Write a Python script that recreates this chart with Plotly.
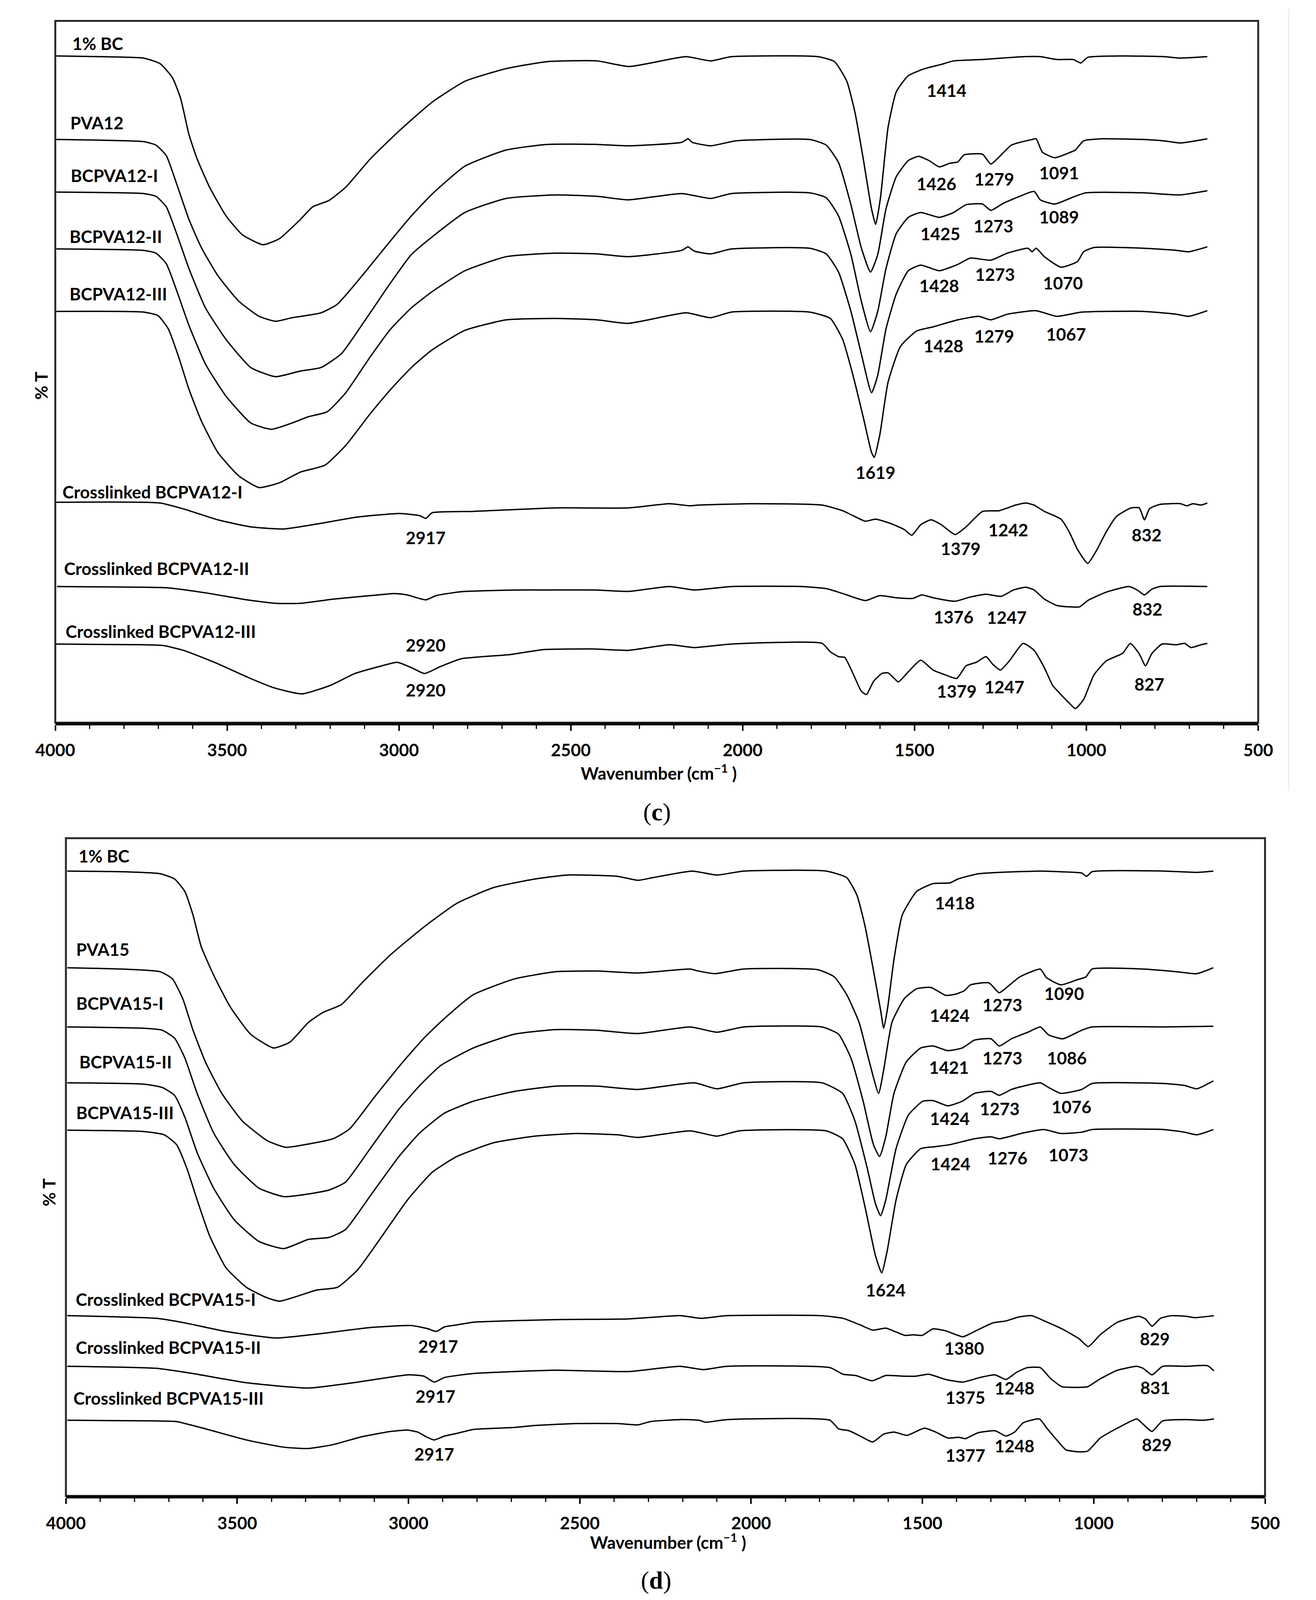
import plotly.graph_objects as go

# ---- panel (c): FTIR spectra, pairs of (wavenumber cm-1, %T offset) ----
C_BC = [(3997, 95.0), (3863, 94.9), (3743, 94.7), (3695, 93.9), (3659, 91.9), (3635, 88.9), (3611, 83.8),
        (3587, 80.3), (3551, 76.3), (3503, 72.2), (3455, 69.5), (3395, 68.1), (3347, 69.0), (3287, 71.7),
        (3251, 73.5), (3204, 74.4), (3155, 76.3), (3084, 80.3), (3000, 84.3), (2904, 88.4), (2808, 91.4),
        (2688, 93.2), (2568, 94.2), (2424, 94.3), (2330, 93.5), (2165, 94.9), (2093, 94.3), (2033, 94.9),
        (1781, 94.9), (1733, 94.2), (1697, 91.4), (1673, 86.9), (1649, 80.3), (1625, 73.2), (1613, 71.0),
        (1599, 74.8), (1577, 84.8), (1553, 89.9), (1518, 92.2), (1470, 93.2), (1422, 93.8), (1386, 94.3),
        (1302, 94.5), (1182, 94.9), (1134, 94.9), (1086, 94.5), (1038, 94.5), (1016, 94.0), (996, 94.8),
        (894, 95.0), (774, 94.9), (726, 94.7), (648, 94.9)]
C_PVA = [(3997, 83.1), (3863, 83.0), (3743, 82.8), (3707, 82.3), (3677, 80.8), (3647, 76.8), (3611, 71.7),
         (3575, 67.7), (3527, 63.7), (3467, 60.1), (3407, 57.9), (3359, 57.2), (3311, 57.7), (3227, 58.4),
         (3180, 59.6), (3107, 63.7), (3024, 68.7), (2964, 72.2), (2904, 75.3), (2808, 79.3), (2688, 81.6),
         (2568, 82.4), (2424, 82.4), (2333, 82.2), (2177, 82.7), (2159, 83.2), (2147, 82.7), (2093, 82.2),
         (2021, 82.9), (1805, 83.1), (1757, 82.3), (1721, 79.8), (1685, 73.8), (1655, 67.7), (1628, 64.2),
         (1607, 66.7), (1583, 73.2), (1553, 77.8), (1518, 80.1), (1488, 80.7), (1458, 80.1), (1428, 79.2),
         (1398, 79.7), (1374, 79.9), (1356, 80.9), (1302, 81.0), (1278, 79.6), (1254, 80.6), (1218, 82.3),
         (1158, 83.1), (1146, 83.2), (1128, 81.3), (1092, 80.5), (1050, 81.2), (1032, 81.6), (1008, 82.9),
         (954, 83.2), (834, 83.1), (774, 82.9), (726, 82.6), (648, 83.2)]
C_BCPVA_I = [(3997, 75.6), (3743, 75.4), (3707, 75.0), (3677, 73.5), (3647, 69.7), (3611, 64.7), (3563, 59.1),
             (3503, 54.6), (3431, 50.6), (3359, 49.3), (3287, 50.1), (3227, 50.6), (3167, 52.6), (3095, 57.6),
             (3024, 62.7), (2964, 66.7), (2904, 69.2), (2808, 72.7), (2688, 74.7), (2544, 75.2), (2424, 75.0),
             (2333, 74.5), (2177, 75.4), (2093, 74.7), (2033, 75.4), (1805, 75.5), (1757, 74.8), (1721, 72.2),
             (1685, 66.7), (1655, 60.1), (1628, 55.7), (1607, 58.6), (1583, 64.7), (1553, 69.7), (1518, 72.0),
             (1482, 72.7), (1428, 72.0), (1386, 72.7), (1350, 73.8), (1302, 73.9), (1278, 73.0), (1242, 74.0),
             (1194, 75.0), (1152, 75.7), (1134, 74.5), (1092, 73.9), (1038, 74.9), (1002, 75.5), (834, 75.5),
             (774, 75.3), (726, 75.2), (648, 75.8)]
C_BCPVA_II = [(3997, 67.5), (3743, 67.3), (3707, 66.9), (3677, 65.4), (3647, 61.6), (3611, 56.6), (3563, 51.1),
              (3503, 46.5), (3431, 42.7), (3371, 41.8), (3311, 42.7), (3263, 43.6), (3209, 44.3), (3155, 47.0),
              (3084, 52.1), (3024, 56.1), (2964, 59.1), (2904, 61.4), (2808, 64.4), (2688, 66.4), (2544, 66.9),
              (2424, 66.8), (2333, 66.4), (2177, 67.3), (2159, 67.8), (2141, 67.2), (2093, 66.8), (2033, 67.5),
              (1805, 67.6), (1757, 66.8), (1721, 64.2), (1685, 58.6), (1655, 52.6), (1625, 47.0), (1607, 49.5),
              (1583, 56.1), (1553, 61.1), (1518, 64.4), (1482, 65.2), (1428, 64.4), (1374, 65.3), (1338, 66.2),
              (1278, 65.9), (1230, 66.9), (1170, 67.6), (1158, 67.1), (1146, 67.6), (1122, 66.4), (1074, 64.9),
              (1026, 65.7), (1008, 67.1), (978, 67.7), (834, 67.6), (738, 67.3), (702, 67.1), (648, 67.8)]
C_BCPVA_III = [(3997, 58.6), (3743, 58.5), (3701, 58.0), (3671, 56.1), (3641, 52.1), (3611, 47.5), (3575, 43.0),
               (3527, 38.5), (3467, 35.2), (3407, 33.5), (3347, 34.2), (3287, 35.7), (3215, 36.7), (3155, 39.5),
               (3084, 44.0), (3024, 47.5), (2964, 50.6), (2904, 53.1), (2808, 55.9), (2688, 57.4), (2544, 57.6),
               (2424, 57.4), (2333, 56.9), (2165, 58.4), (2093, 57.7), (2033, 58.5), (1805, 58.5), (1745, 57.6),
               (1709, 54.6), (1679, 49.5), (1649, 43.5), (1625, 38.5), (1617, 37.8), (1601, 41.0), (1577, 48.5),
               (1541, 53.6), (1494, 55.8), (1446, 56.4), (1374, 57.4), (1314, 57.9), (1278, 57.4), (1230, 58.2),
               (1146, 58.7), (1086, 57.9), (1014, 58.5), (834, 58.6), (738, 58.2), (702, 57.9), (648, 58.7)]
C_XL_I = [(3997, 31.4), (3695, 31.3), (3623, 30.4), (3527, 28.9), (3431, 27.9), (3335, 27.6), (3239, 28.3),
          (3120, 29.3), (3000, 29.8), (2940, 29.5), (2922, 29.1), (2904, 29.9), (2784, 30.1), (2544, 30.6),
          (2333, 30.6), (2213, 31.2), (2153, 30.9), (2129, 31.0), (1973, 31.2), (1769, 31.0), (1709, 30.2),
          (1679, 29.5), (1643, 28.7), (1613, 29.0), (1565, 28.3), (1529, 27.5), (1508, 26.7), (1482, 28.2),
          (1452, 28.9), (1422, 28.2), (1382, 26.8), (1350, 27.9), (1302, 30.1), (1254, 30.2), (1206, 31.0),
          (1176, 31.3), (1152, 31.0), (1122, 30.1), (1074, 29.0), (1050, 27.2), (1026, 24.7), (996, 22.7),
          (972, 24.4), (942, 27.2), (912, 29.4), (870, 30.6), (846, 30.6), (831, 28.9), (816, 30.5),
          (786, 31.1), (726, 31.2), (708, 30.9), (690, 31.2), (666, 31.0), (648, 31.3)]
C_XL_II = [(3995, 19.4), (3755, 19.3), (3671, 19.2), (3563, 18.5), (3443, 17.5), (3359, 17.0), (3287, 17.0),
           (3191, 17.6), (3084, 18.1), (3012, 18.4), (2976, 18.2), (2922, 17.5), (2892, 18.1), (2844, 18.5),
           (2808, 18.7), (2664, 18.9), (2568, 18.9), (2424, 18.9), (2333, 18.7), (2213, 19.4), (2141, 18.9),
           (2033, 19.4), (1829, 19.4), (1757, 19.1), (1709, 18.4), (1643, 17.4), (1601, 18.1), (1553, 17.8),
           (1505, 17.7), (1479, 18.2), (1446, 17.8), (1382, 17.3), (1338, 17.9), (1292, 18.3), (1248, 18.0),
           (1212, 18.9), (1176, 19.3), (1152, 18.9), (1122, 17.6), (1086, 16.7), (1050, 16.5), (1020, 16.5),
           (996, 17.4), (942, 18.6), (876, 19.4), (852, 18.9), (831, 18.2), (810, 19.0), (786, 19.4), (648, 19.4)]
C_XL_III = [(3998, 11.2), (3746, 11.1), (3687, 11.0), (3627, 10.3), (3532, 8.5), (3437, 6.4), (3366, 5.0),
            (3283, 4.1), (3200, 5.3), (3128, 7.0), (3057, 8.0), (3005, 8.6), (2962, 7.8), (2926, 7.0),
            (2879, 8.0), (2819, 9.1), (2677, 9.7), (2582, 10.4), (2439, 10.5), (2333, 10.3), (2213, 11.1),
            (2141, 10.7), (2033, 11.2), (1769, 11.3), (1745, 10.1), (1721, 9.4), (1703, 9.3), (1679, 7.0),
            (1655, 4.5), (1640, 4.0), (1619, 5.9), (1595, 7.0), (1577, 7.1), (1559, 6.3), (1547, 5.8),
            (1517, 7.3), (1482, 8.9), (1446, 7.5), (1410, 6.8), (1377, 6.3), (1350, 8.1), (1320, 8.6),
            (1292, 9.4), (1272, 8.3), (1250, 7.5), (1224, 8.8), (1184, 11.3), (1152, 10.3), (1122, 7.8),
            (1098, 5.3), (1074, 4.0), (1050, 2.8), (1032, 2.0), (1008, 3.3), (978, 6.8), (942, 8.8),
            (894, 9.9), (872, 11.3), (846, 9.8), (828, 8.1), (810, 9.8), (780, 11.2), (738, 11.1),
            (714, 11.3), (696, 10.7), (666, 11.1), (648, 11.3)]

C_SERIES = [C_BC, C_PVA, C_BCPVA_I, C_BCPVA_II, C_BCPVA_III, C_XL_I, C_XL_II, C_XL_III]
C_NAMES = ["1% BC", "PVA12", "BCPVA12-I", "BCPVA12-II", "BCPVA12-III",
           "Crosslinked BCPVA12-I", "Crosslinked BCPVA12-II", "Crosslinked BCPVA12-III"]
C_NAME_AT = [(3953, 96.8), (3959, 85.5), (3957, 78.0), (3961, 69.3), (3961, 61.1),
             (3981, 32.9), (3977, 22.0), (3972, 13.0)]
C_PEAKS = [("1414", 1407, 90.1), ("1426", 1436, 76.8), ("1279", 1268, 77.5), ("1091", 1080, 78.4),
           ("1425", 1425, 69.7), ("1273", 1270, 70.8), ("1089", 1080, 72.1),
           ("1428", 1428, 62.3), ("1273", 1266, 63.9), ("1070", 1068, 62.7),
           ("1428", 1416, 53.7), ("1279", 1268, 55.1), ("1067", 1059, 55.4), ("1619", 1613, 35.7),
           ("2917", 2922, 26.4), ("1379", 1366, 24.8), ("1242", 1227, 27.5), ("832", 824, 26.8),
           ("1376", 1386, 15.1), ("1247", 1232, 15.0), ("832", 822, 16.2),
           ("2920", 2922, 11.1), ("2920", 2922, 4.7), ("1379", 1377, 4.5), ("1247", 1239, 5.1), ("827", 816, 5.5)]

# ---- panel (d) ----
D_BC = [(3996, 95.0), (3834, 94.9), (3725, 94.6), (3683, 93.8), (3653, 91.9), (3629, 88.3), (3605, 83.5),
        (3569, 79.2), (3521, 74.4), (3461, 70.2), (3394, 68.1), (3346, 69.0), (3292, 72.0), (3250, 73.5),
        (3196, 74.7), (3136, 78.0), (3052, 82.3), (2955, 86.5), (2859, 90.1), (2751, 92.5), (2631, 93.8),
        (2534, 94.4), (2390, 94.2), (2330, 93.6), (2287, 94.0), (2172, 95.0), (2100, 94.4), (2022, 95.0),
        (1781, 95.0), (1721, 94.0), (1691, 91.3), (1667, 86.5), (1643, 79.9), (1622, 73.8), (1613, 71.1),
        (1601, 74.4), (1583, 81.6), (1559, 88.3), (1517, 91.9), (1469, 93.1), (1420, 93.2), (1396, 93.8),
        (1336, 94.6), (1156, 95.0), (1096, 94.9), (1035, 94.7), (1021, 94.2), (1005, 94.9), (795, 95.0),
        (699, 94.8), (651, 95.0)]
D_PVA = [(3996, 80.3), (3834, 80.1), (3725, 79.7), (3689, 78.6), (3659, 75.6), (3629, 70.8), (3593, 66.0),
         (3545, 61.2), (3485, 57.0), (3412, 54.0), (3358, 53.0), (3292, 53.5), (3220, 54.3), (3172, 55.8),
         (3100, 60.6), (3016, 66.0), (2955, 69.6), (2895, 72.6), (2811, 76.2), (2691, 78.6), (2570, 79.7),
         (2450, 79.8), (2330, 79.5), (2178, 80.1), (2154, 79.8), (2106, 79.4), (2022, 80.1), (1805, 80.0),
         (1757, 78.9), (1721, 76.2), (1685, 72.0), (1655, 66.0), (1628, 61.2), (1613, 64.8), (1589, 72.0),
         (1553, 75.6), (1517, 77.1), (1475, 77.3), (1432, 76.1), (1402, 76.3), (1378, 76.8), (1360, 77.7),
         (1306, 78.0), (1276, 76.5), (1252, 77.4), (1216, 78.9), (1156, 80.1), (1138, 78.8), (1096, 77.7),
         (1047, 78.5), (1023, 78.9), (1005, 80.1), (855, 80.1), (759, 79.7), (699, 79.4), (651, 80.3)]
D_BCPVA_I = [(3996, 71.3), (3773, 71.1), (3719, 70.8), (3683, 69.6), (3653, 66.6), (3617, 61.2), (3569, 55.2),
             (3509, 50.4), (3437, 46.8), (3364, 45.5), (3292, 45.9), (3232, 46.5), (3184, 47.7), (3112, 52.8),
             (3028, 58.8), (2967, 62.4), (2907, 65.4), (2811, 68.1), (2691, 70.2), (2570, 70.9), (2450, 70.8),
             (2330, 70.3), (2178, 71.3), (2100, 70.5), (2022, 71.3), (1793, 71.3), (1745, 70.2), (1709, 66.6),
             (1673, 60.0), (1643, 53.4), (1625, 51.6), (1607, 54.6), (1583, 61.2), (1547, 66.0), (1505, 68.1),
             (1469, 68.4), (1426, 67.7), (1384, 68.1), (1348, 69.3), (1300, 69.5), (1276, 68.4), (1240, 69.5),
             (1192, 70.5), (1156, 71.3), (1132, 70.1), (1090, 69.5), (1035, 70.8), (1005, 71.3), (795, 71.3),
             (651, 71.4)]
D_BCPVA_II = [(3996, 62.8), (3773, 62.6), (3719, 62.1), (3683, 60.9), (3653, 57.6), (3617, 52.2), (3569, 46.8),
              (3509, 42.0), (3437, 38.7), (3364, 37.6), (3292, 39.0), (3232, 39.3), (3184, 40.5), (3112, 45.6),
              (3028, 51.6), (2967, 55.2), (2895, 58.2), (2811, 60.0), (2691, 61.5), (2570, 62.3), (2450, 62.3),
              (2330, 61.8), (2166, 62.8), (2100, 61.9), (2022, 62.8), (1793, 62.8), (1733, 61.2), (1697, 57.0),
              (1661, 49.8), (1637, 44.4), (1622, 42.6), (1607, 45.0), (1577, 52.8), (1541, 57.9), (1499, 60.0),
              (1469, 60.1), (1426, 59.3), (1384, 60.0), (1348, 61.2), (1300, 61.5), (1276, 60.9), (1240, 61.8),
              (1156, 62.8), (1132, 62.1), (1096, 61.2), (1035, 61.8), (1005, 62.7), (795, 62.7), (735, 62.4),
              (699, 61.9), (651, 63.1)]
D_BCPVA_III = [(3996, 55.6), (3773, 55.4), (3713, 54.9), (3677, 53.4), (3647, 49.8), (3617, 45.0), (3581, 39.6),
               (3533, 34.7), (3473, 31.7), (3412, 30.1), (3376, 29.6), (3316, 30.5), (3268, 31.3), (3208, 31.7),
               (3148, 34.4), (3076, 39.6), (3003, 45.0), (2931, 49.2), (2859, 51.6), (2751, 53.7), (2631, 54.7),
               (2510, 55.1), (2390, 54.9), (2330, 54.5), (2178, 55.5), (2100, 54.7), (2034, 55.5), (1781, 55.5),
               (1733, 54.3), (1697, 50.4), (1667, 43.8), (1637, 36.5), (1619, 33.9), (1603, 37.2), (1577, 45.0),
               (1547, 50.4), (1505, 52.8), (1463, 53.1), (1420, 53.4), (1348, 54.3), (1300, 54.6), (1276, 54.3),
               (1204, 55.2), (1144, 55.7), (1096, 55.1), (1035, 55.3), (1005, 55.7), (795, 55.7), (735, 55.3),
               (699, 54.9), (651, 55.7)]
D_XL_I = [(3996, 27.4), (3737, 27.0), (3653, 26.3), (3533, 25.0), (3388, 24.0), (3268, 24.6), (3112, 25.6),
          (2991, 25.9), (2943, 25.4), (2919, 25.0), (2895, 25.7), (2859, 26.0), (2811, 26.4), (2570, 26.8),
          (2359, 26.9), (2208, 27.4), (2146, 27.0), (2071, 27.4), (1795, 27.4), (1732, 27.0), (1682, 26.0),
          (1645, 25.2), (1607, 25.5), (1576, 24.9), (1551, 24.4), (1526, 24.5), (1501, 24.4), (1469, 25.4),
          (1432, 25.1), (1382, 24.2), (1344, 25.1), (1294, 26.3), (1256, 26.6), (1219, 27.2), (1181, 27.4),
          (1144, 26.6), (1093, 25.4), (1043, 23.9), (1016, 22.7), (981, 24.5), (931, 26.4), (868, 27.3),
          (849, 26.9), (830, 25.8), (805, 27.0), (774, 27.4), (730, 27.3), (705, 27.1), (649, 27.4)]
D_XL_II = [(3996, 19.7), (3737, 19.4), (3629, 18.6), (3473, 17.2), (3292, 16.4), (3148, 17.3), (3003, 18.4),
           (2955, 18.2), (2925, 17.3), (2895, 18.0), (2811, 18.6), (2570, 19.1), (2359, 18.9), (2208, 19.7),
           (2139, 19.2), (2071, 19.7), (1770, 19.5), (1732, 18.5), (1695, 18.3), (1647, 17.5), (1607, 18.3),
           (1557, 18.2), (1519, 18.2), (1482, 18.5), (1432, 17.7), (1382, 17.3), (1332, 18.0), (1288, 18.4),
           (1256, 17.7), (1225, 18.8), (1194, 19.5), (1156, 19.5), (1125, 17.8), (1093, 16.6), (1056, 16.5),
           (1018, 16.6), (981, 17.8), (931, 19.1), (874, 19.7), (856, 19.4), (830, 18.4), (799, 19.7),
           (730, 19.7), (668, 19.8), (649, 19.0)]
D_XL_III = [(3996, 11.5), (3737, 11.4), (3677, 11.3), (3593, 10.2), (3473, 8.5), (3364, 7.4), (3292, 7.2),
            (3220, 7.8), (3136, 9.0), (3052, 9.8), (3003, 10.0), (2973, 9.7), (2949, 9.0), (2925, 8.5),
            (2895, 9.1), (2859, 9.5), (2811, 10.1), (2691, 10.4), (2631, 10.7), (2510, 11.0), (2390, 11.0),
            (2330, 10.8), (2294, 11.3), (2208, 11.6), (2152, 11.5), (2133, 11.2), (2071, 11.6), (1770, 11.5),
            (1745, 10.2), (1714, 9.9), (1682, 9.1), (1645, 8.2), (1613, 9.4), (1582, 9.7), (1545, 9.2),
            (1494, 10.3), (1457, 9.6), (1426, 8.8), (1394, 8.9), (1375, 8.7), (1338, 9.6), (1288, 9.9),
            (1256, 9.1), (1231, 9.7), (1206, 11.1), (1159, 11.7), (1137, 10.3), (1106, 8.4), (1081, 7.0),
            (1043, 6.7), (1018, 6.8), (981, 8.8), (931, 10.3), (874, 11.7), (856, 10.9), (830, 9.8),
            (799, 11.4), (730, 11.6), (680, 11.5), (649, 11.7)]

D_SERIES = [D_BC, D_PVA, D_BCPVA_I, D_BCPVA_II, D_BCPVA_III, D_XL_I, D_XL_II, D_XL_III]
D_NAMES = ["1% BC", "PVA15", "BCPVA15-I", "BCPVA15-II", "BCPVA15-III",
           "Crosslinked BCPVA15-I", "Crosslinked BCPVA15-II", "Crosslinked BCPVA15-III"]
D_NAME_AT = [(3966, 97.3), (3972, 83.1), (3972, 74.9), (3963, 66.0), (3972, 58.3),
             (3974, 29.9), (3974, 22.6), (3980, 14.9)]
D_PEAKS = [("1418", 1406, 90.2), ("1424", 1420, 73.1), ("1273", 1266, 74.7), ("1090", 1086, 76.4),
           ("1421", 1423, 65.2), ("1273", 1266, 66.6), ("1086", 1078, 66.6),
           ("1424", 1420, 57.4), ("1273", 1274, 58.9), ("1076", 1065, 59.2),
           ("1424", 1418, 50.5), ("1276", 1252, 51.4), ("1073", 1074, 51.9), ("1624", 1607, 31.3),
           ("2917", 2913, 22.8), ("1380", 1378, 22.5), ("829", 822, 23.9),
           ("2917", 2922, 15.2), ("1375", 1375, 15.0), ("1248", 1231, 16.4), ("831", 820, 16.5),
           ("2917", 2925, 6.4), ("1377", 1375, 6.2), ("1248", 1231, 7.6), ("829", 816, 7.8)]

FONT = "Lato"
SIZE = 44
# reference page size; every placement below is a fraction of it, so the
# figure can fill whatever viewport the page is shown in
W, H = 3370, 4902

fig = go.Figure()

# spectra
for series_list, xa, ya in [(C_SERIES, "x", "y"), (D_SERIES, "x2", "y2")]:
    for series in series_list:
        wn, t = zip(*series)
        fig.add_trace(go.Scatter(
            x=wn, y=t, mode="lines", xaxis=xa, yaxis=ya,
            line=dict(color="black", width=3.5, shape="spline", smoothing=0.5),
            showlegend=False, hoverinfo="skip"))

annotations = []


def label(text, x, y, xref, yref, anchor="center", size=SIZE, angle=0, family=FONT):
    annotations.append(dict(
        text=text, x=x, y=y, xref=xref, yref=yref, showarrow=False,
        xanchor=anchor, yanchor="middle", textangle=angle,
        font=dict(family=family, size=size, color="black")))


for names, spots, peaks, xr, yr in [(C_NAMES, C_NAME_AT, C_PEAKS, "x", "y"),
                                     (D_NAMES, D_NAME_AT, D_PEAKS, "x2", "y2")]:
    for name, (wx, ty) in zip(names, spots):
        label(f"<b>{name}</b>", wx, ty, xr, yr, anchor="left")
    for txt, wx, ty in peaks:
        label(f"<b>{txt}</b>", wx, ty, xr, yr)

# axis titles, y label and panel captions (paper coords)
label("<b>Wavenumber (cm<sup>−1</sup> )</b>", 1680 / W, 1 - 2365 / H, "paper", "paper")
label("<b>Wavenumber (cm<sup>−1</sup> )</b>", 1705 / W, 1 - 4722 / H, "paper", "paper")
label("<b>% T</b>", 55 / W, 1 - 1182 / H, "paper", "paper", angle=-90)
label("<b>% T</b>", 76 / W, 1 - 3653 / H, "paper", "paper", angle=-90)
label("(<b>c</b>)", 1676 / W, 1 - 2488 / H, "paper", "paper", size=64, family="Liberation Serif")
label("(<b>d</b>)", 1673 / W, 1 - 4842 / H, "paper", "paper", size=64, family="Liberation Serif")


def x_axis(domain, anchor):
    return dict(
        domain=domain, anchor=anchor, range=[4000, 500], tickmode="linear", tick0=0, dtick=500,
        ticks="outside", ticklen=14, tickwidth=3.5, tickcolor="black",
        showline=True, linewidth=7, linecolor="black", showgrid=False, zeroline=False,
        tickfont=dict(family=FONT, size=SIZE, color="black", weight="bold"), ticklabelstandoff=12,
        minor=dict(dtick=100, tick0=0, ticks="outside", ticklen=9, tickwidth=3, tickcolor="black",
                   showgrid=False),
        fixedrange=True)


def y_axis(domain, anchor):
    return dict(domain=domain, anchor=anchor, range=[0, 100], visible=False, fixedrange=True)


C_DOM_X = [93 / W, 3257 / W]
C_DOM_Y = [1 - 2214 / H, 1 - 64 / H]
D_DOM_X = [121 / W, 3275 / W]
D_DOM_Y = [1 - 4583 / H, 1 - 2568 / H]

shapes = [
    dict(type="rect", xref="paper", yref="paper", x0=C_DOM_X[0], x1=C_DOM_X[1], y0=C_DOM_Y[0], y1=C_DOM_Y[1],
         line=dict(color="#2b2b2b", width=5), layer="below"),
    dict(type="rect", xref="paper", yref="paper", x0=D_DOM_X[0], x1=D_DOM_X[1], y0=D_DOM_Y[0], y1=D_DOM_Y[1],
         line=dict(color="#2b2b2b", width=5), layer="below"),
    # faint page edge to the right of panel (c)
    dict(type="line", xref="paper", yref="paper", x0=3337 / W, x1=3337 / W, y0=1 - 2422 / H, y1=1 - 25 / H,
         line=dict(color="#ececec", width=3), layer="below"),
]

fig.update_layout(
    autosize=True,
    margin=dict(l=0, r=0, t=0, b=0),
    paper_bgcolor="white", plot_bgcolor="white",
    xaxis=x_axis(C_DOM_X, "y"), yaxis=y_axis(C_DOM_Y, "x"),
    xaxis2=x_axis(D_DOM_X, "y2"), yaxis2=y_axis(D_DOM_Y, "x2"),
    annotations=annotations, shapes=shapes,
    showlegend=False,
)

# the browser viewport can be shorter than the requested window, so let the
# figure fill the visible page instead of overflowing it
FIT_PAGE = """
document.body.style.margin = '0';
document.body.style.overflow = 'hidden';
Plotly.Plots.resize(document.getElementById('{plot_id}'));
"""

fig.write_html("out.html", default_width="100vw", default_height="100vh",
               config={"responsive": True, "displayModeBar": False}, post_script=FIT_PAGE)
